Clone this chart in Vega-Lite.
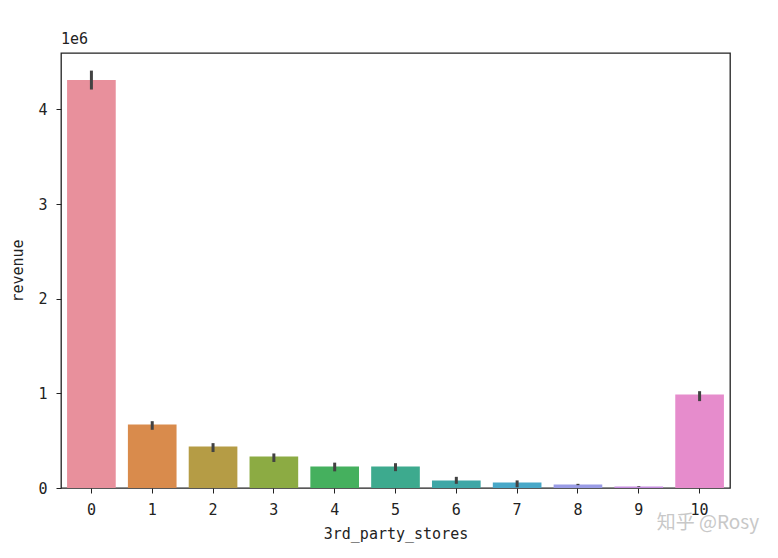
{
  "$schema": "https://vega.github.io/schema/vega-lite/v6.json",
  "width": 669,
  "height": 435,
  "autosize": {"type": "none"},
  "padding": {"left": 61, "top": 53, "right": 48, "bottom": 70},
  "background": "white",
  "title": {"text": "1e6", "anchor": "start", "frame": "group", "font": "DejaVu Sans Mono", "fontSize": 15, "fontWeight": "normal", "color": "#222", "offset": 6},
  "config": {
    "view": {"stroke": "#222", "strokeWidth": 1.3},
    "axis": {"labelFont": "DejaVu Sans Mono", "titleFont": "DejaVu Sans Mono", "labelFontSize": 15, "titleFontSize": 15, "titleFontWeight": "normal", "labelColor": "#222", "titleColor": "#222", "tickColor": "#222", "tickSize": 5, "domain": false, "grid": false}
  },
  "data": {
    "values": [
      {"stores": "0", "revenue": 4310000, "lo": 4210000, "hi": 4410000},
      {"stores": "1", "revenue": 671000, "lo": 615000, "hi": 706000},
      {"stores": "2", "revenue": 439000, "lo": 380000, "hi": 474000},
      {"stores": "3", "revenue": 333000, "lo": 275000, "hi": 365000},
      {"stores": "4", "revenue": 227000, "lo": 176000, "hi": 268000},
      {"stores": "5", "revenue": 227000, "lo": 178000, "hi": 262000},
      {"stores": "6", "revenue": 79000, "lo": 44000, "hi": 118000},
      {"stores": "7", "revenue": 58000, "lo": 8000, "hi": 80000},
      {"stores": "8", "revenue": 37000, "lo": 30000, "hi": 44000},
      {"stores": "9", "revenue": 16000, "lo": 12000, "hi": 20000},
      {"stores": "10", "revenue": 988000, "lo": 918000, "hi": 1023000}
    ]
  },
  "layer": [
    {
      "mark": {"type": "bar"},
      "encoding": {
        "x": {"field": "stores", "type": "ordinal", "sort": ["0","1","2","3","4","5","6","7","8","9","10"], "scale": {"domain": ["0","1","2","3","4","5","6","7","8","9","10"], "paddingInner": 0.2, "paddingOuter": 0.1}, "axis": {"title": "3rd_party_stores", "labelAngle": 0, "labelPadding": 9, "titlePadding": 9}},
        "y": {"field": "revenue", "type": "quantitative", "scale": {"domain": [0, 4596000], "nice": false, "zero": true}, "axis": {"title": "revenue", "values": [0, 1000000, 2000000, 3000000, 4000000], "labelExpr": "format(datum.value / 1000000, 'd')", "labelPadding": 9, "titlePadding": 12}},
        "color": {"field": "stores", "type": "ordinal", "sort": ["0","1","2","3","4","5","6","7","8","9","10"], "legend": null, "scale": {"domain": ["0","1","2","3","4","5","6","7","8","9","10"], "range": ["#e8909c", "#d98b4c", "#b59c45", "#8cab43", "#45b05e", "#3daa8e", "#3ea7a6", "#48a8c8", "#9a9ce6", "#c58de0", "#e68ccc"]}}
      }
    },
    {
      "mark": {"type": "rule", "strokeWidth": 3, "color": "#424242"},
      "encoding": {
        "x": {"field": "stores", "type": "ordinal", "sort": ["0","1","2","3","4","5","6","7","8","9","10"]},
        "y": {"field": "lo", "type": "quantitative"},
        "y2": {"field": "hi"}
      }
    },
    {
      "data": {"values": [{"stores": "9", "pos": -375000, "label": "知乎 @Rosy"}]},
      "mark": {"type": "text", "align": "left", "baseline": "middle", "font": "Noto Sans CJK SC", "fontSize": 19, "color": "#c8c8c8", "dx": 18},
      "encoding": {
        "x": {"field": "stores", "type": "ordinal", "sort": ["0","1","2","3","4","5","6","7","8","9","10"]},
        "y": {"field": "pos", "type": "quantitative"},
        "text": {"field": "label"}
      }
    }
  ]
}
